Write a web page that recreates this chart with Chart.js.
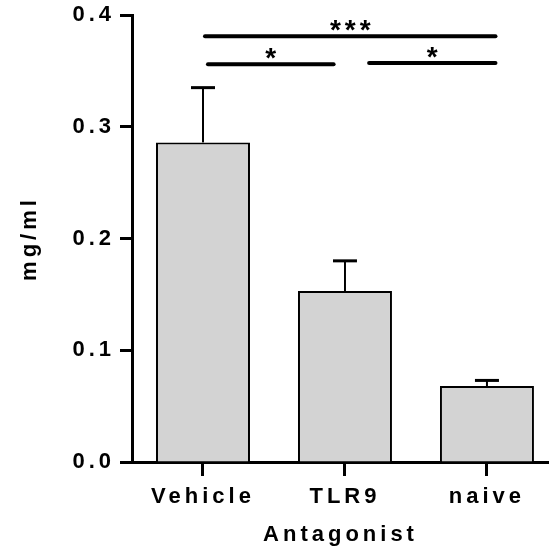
<!DOCTYPE html>
<html>
<head>
<meta charset="utf-8">
<script src="https://cdn.jsdelivr.net/npm/chart.js@4"></script>
<style>
  html, body { margin: 0; padding: 0; background: #fff; overflow: hidden; }
  #wrap { width: 549px; height: 548px; }
</style>
</head>
<body>
<div id="wrap"><canvas id="chart" width="549" height="548"></canvas></div>
<script>
// data
var categories = ['Vehicle', 'TLR9', 'naive'];
var means = [0.286, 0.153, 0.068];
var sem = [0.049, 0.027, 0.005];
var yTicks = [0.0, 0.1, 0.2, 0.3, 0.4];

// significance brackets (x in category units, level in mg/ml)
var sigLabels = ['***', '*', '*'];
var sigFrom = [0.014, 0.035, 1.17];
var sigTo = [2.06, 0.92, 2.06];
var sigLevel = [0.381, 0.356, 0.357];

var FONT = 'Liberation Sans, Arial, Helvetica, sans-serif';

// spaced-out lettering like the original
var spacing = {
  id: 'spacing',
  beforeUpdate: function(chart) { chart.ctx.letterSpacing = '4px'; },
  beforeDraw: function(chart) { chart.ctx.letterSpacing = '4px'; }
};

// SEM whiskers, upward only
var errBars = {
  id: 'errBars',
  afterDatasetsDraw: function(chart) {
    var ctx = chart.ctx;
    var meta = chart.getDatasetMeta(0);
    var ys = chart.scales.y;
    ctx.save();
    ctx.strokeStyle = '#000';
    meta.data.forEach(function(bar, i) {
      var top = ys.getPixelForValue(means[i] + sem[i]);
      ctx.lineWidth = 2;
      ctx.beginPath();
      ctx.moveTo(bar.x, bar.y);
      ctx.lineTo(bar.x, top);
      ctx.stroke();
      ctx.lineWidth = 3;
      ctx.beginPath();
      ctx.moveTo(bar.x - 12, top);
      ctx.lineTo(bar.x + 12, top);
      ctx.stroke();
    });
    ctx.restore();
  }
};

var brackets = {
  id: 'brackets',
  afterDraw: function(chart) {
    var ctx = chart.ctx;
    var xs = chart.scales.x, ys = chart.scales.y;
    ctx.save();
    ctx.strokeStyle = '#000';
    ctx.fillStyle = '#000';
    ctx.lineWidth = 4;
    ctx.lineCap = 'round';
    ctx.font = 'bold 28px ' + FONT;
    ctx.letterSpacing = '4px';
    ctx.textAlign = 'center';
    ctx.textBaseline = 'alphabetic';
    for (var i = 0; i < sigLabels.length; i++) {
      var x1 = xs.getPixelForValue(sigFrom[i]);
      var x2 = xs.getPixelForValue(sigTo[i]);
      var y = ys.getPixelForValue(sigLevel[i]);
      ctx.beginPath();
      ctx.moveTo(x1, y);
      ctx.lineTo(x2, y);
      ctx.stroke();
      ctx.fillText(sigLabels[i], (x1 + x2) / 2 + 2, y + 3);
    }
    ctx.restore();
  }
};

new Chart(document.getElementById('chart'), {
  type: 'bar',
  data: {
    datasets: [{
      label: 'mg/ml',
      data: categories.map(function(c, i) { return { x: i, y: means[i] }; }),
      backgroundColor: '#d3d3d3',
      borderColor: '#000',
      borderWidth: 2,
      borderSkipped: 'bottom',
      barPercentage: 1,
      categoryPercentage: 0.662
    }]
  },
  options: {
    responsive: false,
    animation: false,
    layout: { padding: 0 },
    plugins: { legend: { display: false }, tooltip: { enabled: false } },
    scales: {
      x: {
        type: 'linear',
        min: -0.5,
        max: 2.437,
        offset: false,
        afterBuildTicks: function(s) {
          s.ticks = categories.map(function(c, i) { return { value: i }; });
        },
        afterFit: function(s) {
          s.height = 86;
          s.paddingLeft = 0;
          s.paddingRight = 0;
        },
        border: { display: true, color: '#000', width: 3 },
        grid: { offset: false, drawOnChartArea: false, color: '#000', tickLength: 14, tickWidth: 3 },
        ticks: {
          color: '#000',
          padding: 8,
          maxRotation: 0,
          autoSkip: false,
          font: { family: FONT, size: 22, weight: 'bold' },
          callback: function(v) { return categories[v]; }
        },
        title: {
          display: true,
          text: 'Antagonist',
          color: '#000',
          padding: { top: 0, bottom: 0 },
          font: { family: FONT, size: 22, weight: 'bold' }
        }
      },
      y: {
        min: 0,
        max: 0.4,
        afterBuildTicks: function(s) {
          s.ticks = yTicks.map(function(v) { return { value: v }; });
        },
        afterFit: function(s) {
          s.width = 132;
          s.paddingTop = 15;
          s.paddingBottom = 0;
        },
        border: { display: true, color: '#000', width: 3 },
        grid: { drawOnChartArea: false, color: '#000', tickLength: 12, tickWidth: 3 },
        ticks: {
          color: '#000',
          padding: 5,
          font: { family: FONT, size: 22, weight: 'bold' },
          callback: function(v) { return v.toFixed(1); }
        },
        title: {
          display: true,
          text: 'mg/ml',
          color: '#000',
          padding: { top: 17, bottom: 0 },
          font: { family: FONT, size: 22, weight: 'bold' }
        }
      }
    }
  },
  plugins: [spacing, errBars, brackets]
});
</script>
</body>
</html>
